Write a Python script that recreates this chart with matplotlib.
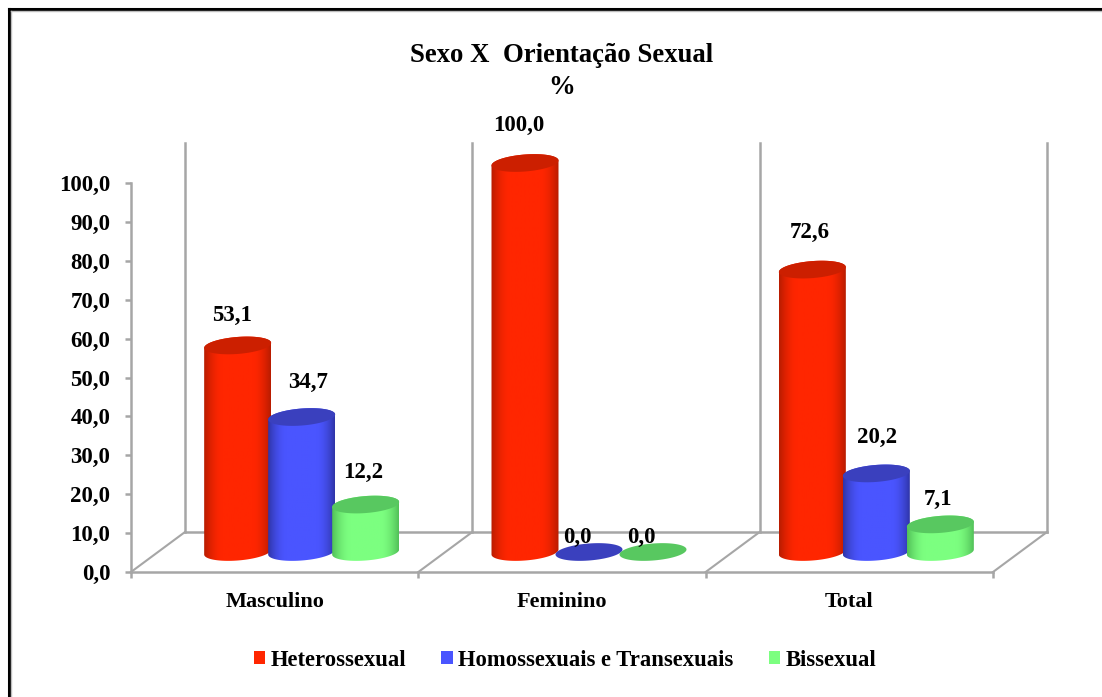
import numpy as np
import matplotlib
matplotlib.use("Agg")
import matplotlib.pyplot as plt
from matplotlib.colors import to_rgb
from matplotlib.lines import Line2D
from matplotlib.patches import Patch, PathPatch, Polygon
from matplotlib.path import Path

plt.rcParams['font.family'] = ['Liberation Serif', 'DejaVu Serif']
plt.rcParams['font.weight'] = 'bold'

categories = ["Masculino", "Feminino", "Total"]
series_names = ["Heterossexual", "Homossexuais e Transexuais", "Bissexual"]
hetero = [53.1, 100.0, 72.6]
homo = [34.7, 0.0, 20.2]
bi = [12.2, 0.0, 7.1]
y_ticks = [0, 10, 20, 30, 40, 50, 60, 70, 80, 90, 100]

# edge, centre and top colours of each cylinder
edge_cols = ["#B81C00", "#2F35A8", "#52C058"]
mid_cols = ["#FF2600", "#4A55FF", "#7CFF80"]
top_cols = ["#CC1F00", "#3A40BE", "#58C860"]
GREY = "#A6A6A6"

W, H = 1102, 697
fig = plt.figure(figsize=(W / 100, H / 100), dpi=100, facecolor="white")
ax = fig.add_axes([131 / W, 1 - 572 / H, (993 - 131) / W, (572 - 183) / H])
ax.set_xlim(0, 3)
ax.set_ylim(0, 100)
ax.set_autoscale_on(False)
ax.patch.set_visible(False)

# sizes in data units
px_x = 3 / (993 - 131)
px_y = 100 / (572 - 183)
depth_x, depth_y = 54 * px_x, 40 * px_y
half_w = 33.5 * px_x
half_h = 8.5 * px_y
tilt = 2.5 * px_y
base_y = 20 * px_y
step = 64 * px_x
shift = 27 * px_x

# walls and floor
for sp in ["top", "right"]:
    ax.spines[sp].set_visible(False)
for sp in ["left", "bottom"]:
    ax.spines[sp].set_color(GREY)
    ax.spines[sp].set_linewidth(1.8)
for i in range(4):
    ax.plot([i, i + depth_x], [0, depth_y], color=GREY, lw=1.5, clip_on=False, zorder=1)
    ax.plot([i + depth_x] * 2, [depth_y, depth_y + 100], color=GREY, lw=1.8, clip_on=False, zorder=1)
ax.plot([depth_x, 3 + depth_x], [depth_y, depth_y], color=GREY, lw=1.8, clip_on=False, zorder=1)

ax.set_yticks(y_ticks)
ax.set_yticklabels([f"{v:.1f}".replace(".", ",") for v in y_ticks], fontsize=16.5, fontweight="bold")
ax.set_xticks(range(4))
ax.set_xticklabels([])
ax.set_xticks([0.5, 1.5, 2.5], categories, minor=True, fontsize=16, fontweight="bold")
ax.tick_params(axis="both", which="major", color=GREY, width=1.8, length=4.5)
ax.tick_params(axis="x", which="minor", length=0, pad=14.5)
ax.tick_params(axis="y", pad=10.5)


def ellipse_xy(cx, cy, n=80):
    t = np.linspace(0, 2 * np.pi, n)
    return cx + half_w * np.cos(t), cy + half_h * np.sin(t) + tilt * np.cos(t)


def cylinder(cx, value, k, z):
    y0, y1 = base_y, base_y + value
    if value > 0:
        t = np.linspace(0, np.pi, 60)
        # lower rim of the base, then upper rim of the top
        bx = cx - half_w * np.cos(t)
        by = y0 - half_h * np.sin(t) - tilt * np.cos(t)
        tx = cx + half_w * np.cos(t)
        ty = y1 + half_h * np.sin(t) + tilt * np.cos(t)
        verts = np.column_stack([np.r_[bx, tx], np.r_[by, ty]])
        clip = PathPatch(Path(np.vstack([verts, verts[0]])), transform=ax.transData)
        e, m = np.array(to_rgb(edge_cols[k])), np.array(to_rgb(mid_cols[k]))
        u = np.abs(np.linspace(-1, 1, 120))[None, :, None]
        grad = m + (e - m) * np.clip((u - 0.45) / 0.55, 0, 1) ** 1.8
        im = ax.imshow(grad, extent=[cx - half_w, cx + half_w, y0 - 20, y1 + 20], aspect="auto", zorder=z,
                       interpolation="bilinear")
        im.set_clip_path(clip)
        im.set_clip_box(fig.bbox)
    ex, ey = ellipse_xy(cx, y1)
    ax.add_patch(Polygon(np.column_stack([ex, ey]), closed=True, fc=top_cols[k], ec="none", zorder=z + 0.5, clip_on=False))


# label offsets from the top of each cylinder, in pixels
label_off = [[(-6, 30), (6, 35), (-2, 32)],
             [(-6, 38), (-12, 15), (-12, 15)],
             [(-3, 37), (1, 36), (-2, 25)]]

z = 3
for g in range(3):
    for k, vals in enumerate([hetero, homo, bi]):
        cx = g + 0.5 + shift + (k - 1) * step
        cylinder(cx, vals[g], k, z)
        z += 1
        ax.annotate(f"{vals[g]:.1f}".replace(".", ","), (cx, base_y + vals[g]),
                    xytext=label_off[g][k], textcoords="offset pixels", annotation_clip=False,
                    ha="center", va="center", fontsize=16.5, fontweight="bold", zorder=50)

fig.text(562 / W, 1 - 55 / H, "Sexo X  Orientação Sexual", ha="center", va="center", fontsize=19.3, fontweight="bold")
fig.text(562 / W, 1 - 87 / H, "%", ha="center", va="center", fontsize=19.3, fontweight="bold")

handles = [Patch(fc=c, ec="none") for c in mid_cols]
fig.legend(handles, series_names, loc="center", bbox_to_anchor=(565 / W, 1 - 660 / H), ncol=3, frameon=False,
           handlelength=0.5, handleheight=0.5, handletextpad=0.25, columnspacing=1.55,
           prop={"weight": "bold", "size": 16.3})

# black frame with the grey inner edge
fig.add_artist(Line2D([8.5 / W, 8.5 / W], [0, 1 - 9 / H], color="black", lw=2.2))
fig.add_artist(Line2D([8.5 / W, 1], [1 - 9 / H, 1 - 9 / H], color="black", lw=2.2))
fig.add_artist(Line2D([11 / W, 11 / W], [0, 1 - 11 / H], color="#BDBDBD", lw=1))
fig.add_artist(Line2D([11 / W, 1], [1 - 11 / H, 1 - 11 / H], color="#BDBDBD", lw=1))

fig.savefig("out.png", dpi=100, facecolor="white")
